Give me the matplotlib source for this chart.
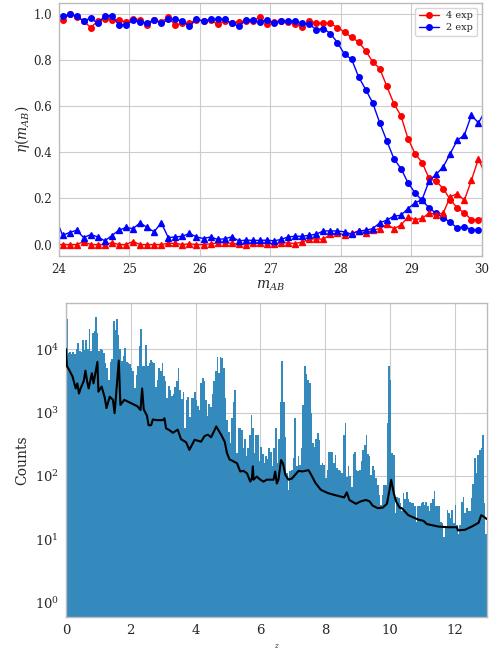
import numpy as np
import matplotlib
matplotlib.use("Agg")
import matplotlib.pyplot as plt

# ---------------- top panel data ----------------
m_ab = [round(23.95 + 0.1 * i, 2) for i in range(62)]

eff_4exp = [0.965, 0.974, 1.0, 0.99, 0.97, 0.942, 0.971, 0.981, 0.977, 0.974,
            0.967, 0.981, 0.974, 0.952, 0.974, 0.967, 0.986, 0.952, 0.962, 0.962,
            0.977, 0.971, 0.974, 0.957, 0.971, 0.962, 0.967, 0.971, 0.972, 0.986,
            0.957, 0.967, 0.971, 0.967, 0.957, 0.945, 0.971, 0.962, 0.96, 0.96,
            0.942, 0.923, 0.899, 0.88, 0.841, 0.793, 0.764, 0.687, 0.612, 0.559,
            0.46, 0.395, 0.356, 0.287, 0.275, 0.243, 0.195, 0.159, 0.137, 0.108,
            0.108, 0.12]
eff_2exp = [0.99, 0.991, 1.0, 0.993, 0.970, 0.984, 0.960, 0.993, 0.994, 0.954,
            0.954, 0.974, 0.967, 0.962, 0.977, 0.960, 0.978, 0.978, 0.970, 0.948,
            0.978, 0.970, 0.978, 0.978, 0.978, 0.960, 0.948, 0.974, 0.974, 0.967,
            0.974, 0.962, 0.971, 0.971, 0.971, 0.96, 0.957, 0.933, 0.938, 0.916,
            0.877, 0.826, 0.805, 0.728, 0.673, 0.615, 0.528, 0.45, 0.373, 0.33,
            0.269, 0.224, 0.192, 0.159, 0.135, 0.117, 0.096, 0.072, 0.077, 0.065,
            0.062, 0.06]
cont_4exp = [0.0, 0.0, 0.0, 0.0, 0.012, 0.0, 0.0, 0.0, 0.008, 0.0,
             0.0, 0.013, 0.0, 0.0, 0.0, 0.0, 0.005, 0.005, 0.0, 0.003,
             0.0, 0.0, 0.003, 0.007, 0.008, 0.005, 0.002, 0.0, 0.005, 0.005,
             0.004, 0.004, 0.007, 0.007, 0.004, 0.011, 0.022, 0.026, 0.022, 0.045,
             0.048, 0.043, 0.048, 0.059, 0.05, 0.062, 0.069, 0.087, 0.069, 0.084,
             0.12, 0.108, 0.113, 0.137, 0.13, 0.137, 0.207, 0.221, 0.192, 0.279,
             0.373, 0.30]
cont_2exp = [0.12, 0.040, 0.052, 0.062, 0.030, 0.043, 0.033, 0.016, 0.039, 0.062,
             0.074, 0.069, 0.094, 0.074, 0.055, 0.095, 0.030, 0.033, 0.036, 0.048,
             0.033, 0.026, 0.033, 0.022, 0.025, 0.033, 0.016, 0.019, 0.018, 0.018,
             0.019, 0.016, 0.022, 0.033, 0.036, 0.036, 0.04, 0.045, 0.059, 0.059,
             0.059, 0.055, 0.045, 0.059, 0.062, 0.069, 0.094, 0.106, 0.123, 0.127,
             0.156, 0.181, 0.195, 0.276, 0.305, 0.337, 0.395, 0.453, 0.475, 0.562,
             0.528, 0.583]

# ---------------- bottom panel data ----------------
z_min, z_max, dz = 0.0, 13.0, 0.05
log_counts = [
    4.47, 3.94, 3.95, 3.93, 3.96, 3.92, 4.00, 4.09, 3.97, 3.95,
    4.15, 3.98, 4.14, 4.00, 4.32, 3.97, 4.26, 4.29, 4.51, 4.25,
    3.97, 4.00, 3.98, 3.94, 3.78, 3.70, 3.52, 3.80, 3.85, 4.44,
    4.30, 4.47, 4.23, 4.00, 3.81, 3.90, 4.02, 3.80, 3.78, 3.76,
    3.70, 3.65, 3.38, 3.60, 3.73, 4.05, 4.32, 3.73, 3.73, 4.07,
    3.73, 3.78, 3.83, 3.80, 3.78, 3.40, 3.52, 3.70, 3.65, 3.78,
    3.58, 3.49, 3.23, 3.42, 3.36, 3.26, 3.29, 3.40, 3.49, 3.70,
    3.36, 3.21, 3.33, 2.75, 3.20, 3.24, 2.93, 3.23, 3.23, 3.33,
    3.20, 3.10, 3.04, 3.46, 3.54, 3.49, 3.20, 2.94, 3.14, 3.08,
    3.30, 3.50, 3.65, 3.87, 3.62, 3.87, 3.86, 3.70, 3.23, 2.88,
    2.70, 2.52, 2.91, 3.17, 3.36, 2.36, 2.75, 2.75, 2.73, 2.44,
    2.59, 2.31, 2.44, 2.65, 2.96, 2.75, 2.36, 2.65, 2.65, 2.23,
    2.46, 2.35, 2.20, 2.31, 2.27, 2.44, 2.38, 2.15, 2.44, 2.75,
    2.20, 2.59, 3.16, 3.81, 3.17, 2.62, 2.04, 1.78, 2.07, 2.09,
    2.28, 2.91, 2.15, 2.31, 2.17, 2.44, 3.12, 3.73, 3.61, 3.52,
    3.46, 2.99, 2.52, 2.45, 2.59, 2.67, 2.57, 2.17, 2.20, 2.17,
    1.96, 2.09, 2.38, 2.38, 2.38, 2.20, 2.33, 2.12, 2.09, 2.07,
    2.04, 2.65, 2.84, 1.99, 2.15, 2.00, 1.83, 2.34, 2.38, 2.09,
    2.07, 2.10, 2.23, 2.41, 2.49, 2.65, 2.35, 2.31, 2.02, 2.15,
    2.09, 1.96, 1.86, 1.70, 1.54, 1.70, 1.86, 1.86, 2.83, 3.74,
    3.52, 2.36, 2.33, 1.41, 1.67, 1.65, 1.57, 1.45, 1.73, 1.63,
    1.75, 1.63, 1.59, 1.57, 1.57, 1.52, 1.28, 1.53, 1.52, 1.58,
    1.59, 1.54, 1.59, 1.52, 1.44, 1.58, 1.63, 1.76, 1.53, 1.53,
    1.53, 1.28, 1.25, 1.04, 1.20, 1.46, 1.41, 1.33, 1.46, 1.25,
    1.54, 1.23, 1.09, 1.23, 1.59, 1.67, 1.41, 1.49, 1.44, 1.44,
    1.65, 1.88, 2.28, 2.04, 2.33, 2.41, 2.44, 2.65, 1.57, 1.09,
]
line_z = [0.00, 0.03, 0.10, 0.20, 0.30, 0.35, 0.40, 0.45, 0.55, 0.60,
          0.65, 0.70, 0.80, 0.85, 0.97, 1.00, 1.10, 1.20, 1.25, 1.35,
          1.45, 1.50, 1.55, 1.63, 1.68, 1.80, 2.00, 2.20, 2.30, 2.35,
          2.40, 2.45, 2.50, 2.55, 2.63, 2.68, 2.80, 2.99, 3.04, 3.09,
          3.20, 3.30, 3.45, 3.55, 3.71, 3.81, 3.86, 3.97, 4.17, 4.28,
          4.38, 4.48, 4.64, 4.79, 4.90, 4.97, 5.05, 5.13, 5.28, 5.38,
          5.48, 5.59, 5.69, 5.74, 5.77, 5.79, 5.89, 6.00, 6.10, 6.20,
          6.41, 6.46, 6.51, 6.56, 6.64, 6.70, 6.77, 6.87, 6.98, 7.08,
          7.18, 7.29, 7.39, 7.49, 7.60, 7.70, 7.87, 8.08, 8.28, 8.59,
          8.67, 8.75, 8.95, 9.11, 9.26, 9.37, 9.47, 9.63, 9.78, 9.91,
          9.99, 10.04, 10.12, 10.19, 10.30, 10.37, 10.57, 10.88, 11.04, 11.14,
          11.50, 11.81, 12.07, 12.10, 12.32, 12.53, 12.74, 12.82, 12.89, 12.99]
line_log = [4.00, 3.73, 3.67, 3.57, 3.38, 3.46, 3.30, 3.38, 3.50, 3.66,
            3.50, 3.38, 3.62, 3.46, 3.80, 3.33, 3.41, 3.23, 3.07, 3.25,
            3.20, 2.99, 3.30, 3.82, 3.12, 3.20, 3.15, 3.10, 3.04, 3.38,
            3.05, 3.00, 2.95, 2.80, 2.80, 2.89, 2.88, 2.88, 2.91, 2.75,
            2.72, 2.68, 2.73, 2.58, 2.53, 2.41, 2.46, 2.57, 2.54, 2.63,
            2.65, 2.61, 2.78, 2.65, 2.54, 2.36, 2.26, 2.24, 2.20, 2.07,
            2.08, 2.04, 1.91, 1.96, 2.15, 1.94, 1.99, 1.94, 1.91, 1.94,
            1.94, 2.07, 1.88, 1.94, 2.25, 2.20, 2.02, 1.94, 1.96, 2.02,
            2.08, 2.07, 2.08, 2.09, 1.99, 1.89, 1.78, 1.73, 1.70, 1.66,
            1.74, 1.62, 1.56, 1.60, 1.62, 1.60, 1.53, 1.49, 1.50, 1.56,
            1.78, 1.94, 1.73, 1.60, 1.50, 1.49, 1.38, 1.31, 1.29, 1.24,
            1.20, 1.19, 1.19, 1.14, 1.15, 1.20, 1.26, 1.38, 1.36, 1.32]

# ---------------- style ----------------
plt.style.use("seaborn-v0_8-whitegrid")
plt.rcParams["font.family"] = ["DejaVu Serif"]
plt.rcParams["mathtext.fontset"] = "dejavuserif"
plt.rcParams["axes.edgecolor"] = "#bbbbbb"
plt.rcParams["grid.color"] = "#cccccc"

fig = plt.figure(figsize=(4.97, 6.49), dpi=100)

# top panel
ax1 = fig.add_axes([0.1187, 0.6055, 0.8511, 0.3903])
ms = 4.0
ax1.plot(m_ab, eff_4exp, "-o", color="red", ms=ms, lw=1.0, label="4 exp")
ax1.plot(m_ab, eff_2exp, "-o", color="blue", ms=ms, lw=1.0, label="2 exp")
ax1.plot(m_ab, cont_4exp, "-^", color="red", ms=ms, lw=1.0)
ax1.plot(m_ab, cont_2exp, "-^", color="blue", ms=ms, lw=1.0)
ax1.set_xlim(24, 30)
ax1.set_ylim(-0.05, 1.05)
ax1.set_xticks([24, 25, 26, 27, 28, 29, 30])
ax1.set_yticks([0.0, 0.2, 0.4, 0.6, 0.8, 1.0])
ax1.tick_params(labelsize=8.5, length=0, pad=5)
ax1.set_xlabel(r"$m_{AB}$", fontsize=10, labelpad=2)
ax1.set_ylabel(r"$\eta(m_{AB})$", fontsize=10, labelpad=1)
leg = ax1.legend(loc="upper right", fontsize=7, frameon=True, handlelength=2.0,
                 borderpad=0.4, labelspacing=0.3)
leg.get_frame().set_edgecolor("#cccccc")

# bottom panel
ax2 = fig.add_axes([0.1328, 0.0498, 0.8471, 0.4829])
edges = np.linspace(z_min, z_max, len(log_counts) + 1)
counts = 10.0 ** np.array(log_counts)
ax2.stairs(counts, edges, fill=True, color="#348ABD", baseline=1e-3, zorder=2)
ax2.plot(line_z, 10.0 ** np.array(line_log), color="black", lw=1.5, zorder=3)
ax2.set_yscale("log")
ax2.set_xlim(0, 13)
ax2.set_ylim(0.6, 5.3e4)
ax2.set_xticks([0, 2, 4, 6, 8, 10, 12])
ax2.set_yticks([1, 10, 100, 1000, 10000])
ax2.minorticks_off()
ax2.set_axisbelow(True)
ax2.tick_params(labelsize=9.5, length=0, pad=5)
ax2.set_xlabel(r"$z$", fontsize=5, labelpad=4)
ax2.set_ylabel("Counts", fontsize=10, labelpad=4)

fig.savefig("out.png", dpi=100)
